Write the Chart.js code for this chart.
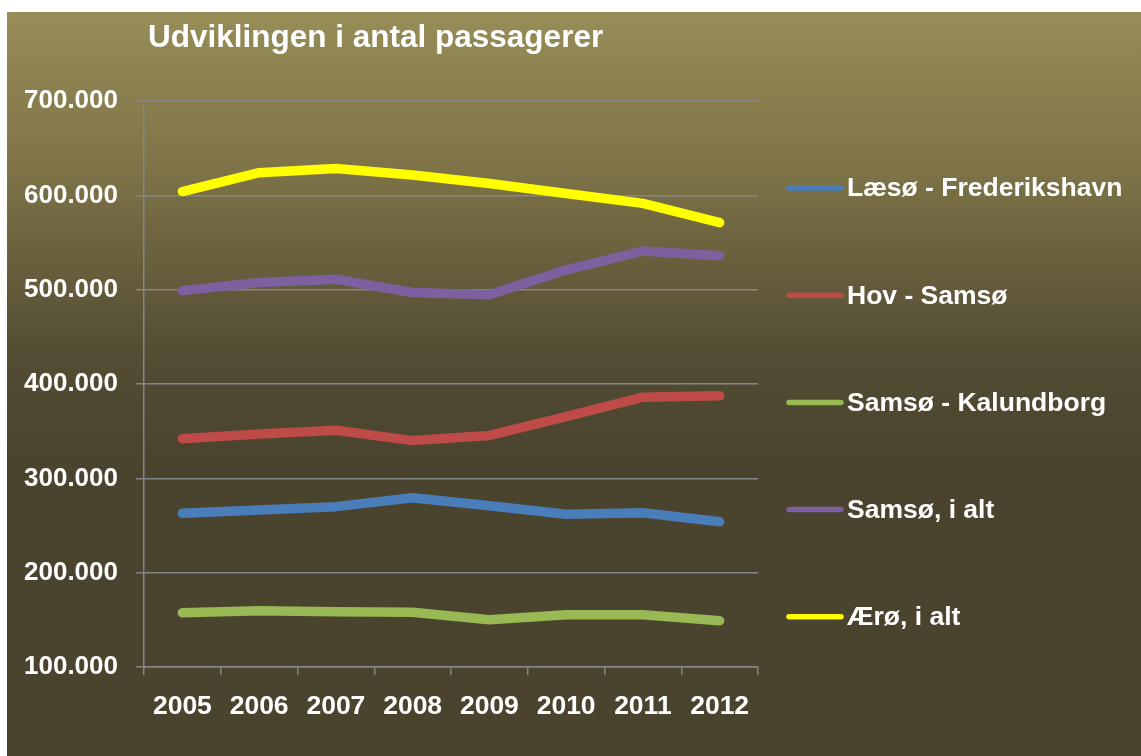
<!DOCTYPE html>
<html>
<head>
<meta charset="utf-8">
<script src="https://cdn.jsdelivr.net/npm/chart.js@4/dist/chart.umd.min.js"></script>
<style>
  html, body { margin: 0; padding: 0; background: #ffffff; }
  canvas { display: block; }
</style>
</head>
<body>
<canvas id="c" width="1141" height="756"></canvas>
<script>
const title = 'Udviklingen i antal passagerer';
const years = ['2005', '2006', '2007', '2008', '2009', '2010', '2011', '2012'];
const seriesNames = ['Læsø - Frederikshavn', 'Hov - Samsø', 'Samsø - Kalundborg', 'Samsø, i alt', 'Ærø, i alt'];
const laesoFrederikshavn = [263000, 266500, 270000, 279500, 271000, 262000, 263500, 254000];
const hovSamsoe = [342000, 347000, 351000, 340000, 345500, 365500, 386000, 387500];
const samsoeKalundborg = [157500, 159500, 158500, 158000, 150000, 155500, 155500, 149000];
const samsoeIAlt = [499000, 507500, 511000, 497000, 494500, 521000, 541000, 536000];
const aeroeIAlt = [604000, 624000, 628500, 621500, 612500, 602000, 591500, 571000];
const seriesColors = ['#4a7ebb', '#be4b48', '#98b954', '#7d60a0', '#ffff00'];
const yMin = 100000, yMax = 700000, yStep = 100000;

const FONT = '"Liberation Sans", Arial, Helvetica, sans-serif';
const fmt = v => String(v).replace(/\B(?=(\d{3})+(?!\d))/g, '.');

const seriesValues = [laesoFrederikshavn, hovSamsoe, samsoeKalundborg, samsoeIAlt, aeroeIAlt];

const bgPlugin = {
  id: 'bg',
  beforeDraw(chart) {
    const ctx = chart.ctx;
    ctx.save();
    ctx.fillStyle = '#ffffff';
    ctx.fillRect(0, 0, chart.width, chart.height);
    const g = ctx.createLinearGradient(0, 12, 0, 756);
    g.addColorStop(0, '#978d57');
    g.addColorStop(0.2, '#7f7548');
    g.addColorStop(0.45, '#554e34');
    g.addColorStop(0.6, '#4a432e');
    g.addColorStop(1, '#4a432e');
    ctx.fillStyle = g;
    ctx.fillRect(7, 12, chart.width - 7, chart.height - 12);
    ctx.restore();
  },
  afterDraw(chart) {
    const ctx = chart.ctx;
    ctx.save();
    ctx.fillStyle = '#ffffff';
    ctx.font = 'bold 31.5px ' + FONT;
    ctx.textAlign = 'left';
    ctx.textBaseline = 'alphabetic';
    ctx.fillText(title, 148, 47);
    ctx.font = 'bold 26.5px ' + FONT;
    ctx.textBaseline = 'middle';
    chart.data.datasets.forEach((ds, i) => {
      const y = 188 + i * 107.2;
      ctx.strokeStyle = ds.borderColor;
      ctx.lineWidth = 5.5;
      ctx.lineCap = 'round';
      ctx.beginPath();
      ctx.moveTo(789, y);
      ctx.lineTo(841, y);
      ctx.stroke();
      ctx.fillStyle = '#ffffff';
      ctx.fillText(ds.label, 847, y + 1);
    });
    ctx.restore();
  }
};

new Chart(document.getElementById('c'), {
  type: 'line',
  data: {
    labels: years,
    datasets: seriesNames.map((name, i) => ({
      label: name,
      data: seriesValues[i],
      borderColor: seriesColors[i],
      backgroundColor: seriesColors[i],
      borderWidth: 9.5,
      borderCapStyle: 'round',
      borderJoinStyle: 'round',
      pointRadius: 0,
      tension: 0,
      fill: false
    }))
  },
  options: {
    responsive: false,
    animation: false,
    devicePixelRatio: 1,
    layout: { padding: { left: 0, right: 383, top: 101, bottom: 0 } },
    plugins: { legend: { display: false }, title: { display: false }, tooltip: { enabled: false } },
    scales: {
      y: {
        min: yMin, max: yMax,
        afterFit(scale) { scale.width = 144; },
        ticks: {
          stepSize: yStep,
          color: '#ffffff',
          font: { family: FONT, size: 26, weight: 'bold' },
          padding: 18,
          callback: v => fmt(v)
        },
        grid: { color: '#868686', lineWidth: 1.5, tickLength: 8 },
        border: { color: '#868686', width: 1.5 }
      },
      x: {
        afterFit(scale) { scale.height = 89; },
        offset: true,
        ticks: {
          color: '#ffffff',
          font: { family: FONT, size: 26.5, weight: 'bold' },
          padding: 16,
          maxRotation: 0,
          autoSkip: false
        },
        grid: { offset: true, drawOnChartArea: false, color: '#868686', lineWidth: 1.5, tickLength: 8 },
        border: { color: '#868686', width: 1.5 }
      }
    }
  },
  plugins: [bgPlugin]
});
</script>
</body>
</html>
